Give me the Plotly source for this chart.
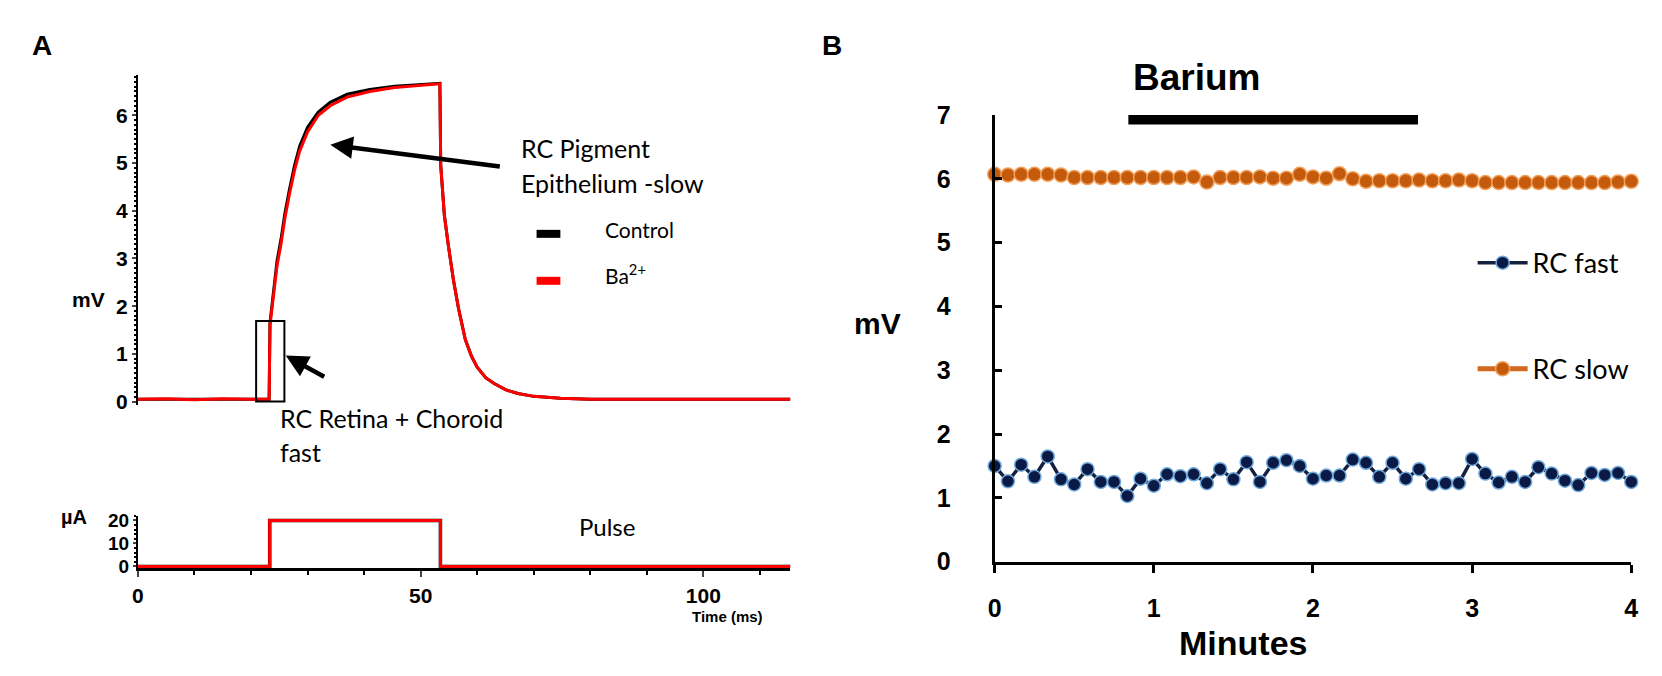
import plotly.graph_objects as go

W, H = 1662, 676


def fx(px):
    return px / W


def fy(py):
    return 1 - py / H


# ---- Panel A: transepithelial potential trace ----
time_ms = [0, 5, 10, 15, 20, 23.2, 23.35, 24.0, 24.6, 25.3, 26.0, 26.8, 27.7, 28.6,
           30.0, 31.9, 34.0, 37.0, 41.0, 45.4, 50.0, 53.4, 53.55, 54.2, 54.9, 55.8,
           56.7, 57.9, 59.0, 60.0, 61.5, 63.0, 65.0, 67.2, 70.0, 74.7, 80, 90, 100, 115.4]
ba_mv = [0.05, 0.06, 0.04, 0.06, 0.05, 0.05, 1.6, 2.3, 2.85, 3.3, 3.85, 4.35, 4.85, 5.25,
         5.65, 6.0, 6.2, 6.38, 6.5, 6.58, 6.63, 6.66, 4.95, 3.9, 3.27, 2.55,
         1.95, 1.3, 0.95, 0.72, 0.5, 0.38, 0.25, 0.17, 0.11, 0.07, 0.05, 0.05, 0.04, 0.05]
control_mv = [0.05, 0.05, 0.05, 0.05, 0.05, 0.05, 1.65, 2.4, 2.95, 3.4, 3.95, 4.45, 4.95, 5.35,
              5.75, 6.07, 6.27, 6.44, 6.54, 6.61, 6.65, 6.67, 4.95, 3.9, 3.27, 2.55,
              1.95, 1.3, 0.95, 0.72, 0.5, 0.38, 0.25, 0.17, 0.11, 0.07, 0.05, 0.05, 0.04, 0.05]

pulse_t = [0, 23.3, 23.3, 53.5, 53.5, 115.4]
pulse_ua = [0, 0, 20, 20, 0, 0]

box_t0, box_t1, box_top = 20.9, 25.9, 1.69

# ---- Panel B: amplitudes every 5 s ----
sample_sec = [0, 5, 10, 15, 20, 25, 30, 35, 40, 45, 50, 55, 60,
              65, 70, 75, 80, 85, 90, 95, 100, 105, 110, 115, 120,
              125, 130, 135, 140, 145, 150, 155, 160, 165, 170, 175, 180,
              185, 190, 195, 200, 205, 210, 215, 220, 225, 230, 235, 240]
rc_fast = [1.50, 1.26, 1.52, 1.33, 1.65, 1.29, 1.21, 1.45, 1.25, 1.25, 1.03, 1.30, 1.19,
           1.37, 1.34, 1.37, 1.23, 1.45, 1.29, 1.56, 1.25, 1.55, 1.59, 1.50, 1.30,
           1.35, 1.35, 1.60, 1.55, 1.33, 1.55, 1.30, 1.45, 1.21, 1.23, 1.23, 1.61,
           1.38, 1.24, 1.33, 1.25, 1.48, 1.38, 1.27, 1.20, 1.39, 1.36, 1.39, 1.25]
rc_slow = [6.07, 6.06, 6.07, 6.07, 6.07, 6.06, 6.02, 6.02, 6.02, 6.02, 6.02, 6.02, 6.02,
           6.02, 6.02, 6.03, 5.95, 6.02, 6.02, 6.02, 6.03, 6.01, 6.01, 6.07, 6.03,
           6.01, 6.08, 6.00, 5.96, 5.97, 5.97, 5.97, 5.98, 5.97, 5.97, 5.98, 5.97,
           5.94, 5.94, 5.94, 5.94, 5.94, 5.94, 5.94, 5.94, 5.94, 5.94, 5.95, 5.96]
minutes = [s / 60 for s in sample_sec]

barium_start, barium_end, barium_level = 0.84, 2.66, 6.93

ARIAL = "Liberation Sans, Arial"
CALIBRI = "Lato, Open Sans, sans-serif"

fig = go.Figure()

# A: traces (control under Ba2+)
fig.add_trace(go.Scatter(x=time_ms, y=control_mv, mode="lines", line=dict(color="black", width=3),
                         showlegend=False, xaxis="x", yaxis="y", hoverinfo="skip"))
fig.add_trace(go.Scatter(x=time_ms, y=ba_mv, mode="lines", line=dict(color="#FF0000", width=3),
                         showlegend=False, xaxis="x", yaxis="y", hoverinfo="skip"))
fig.add_trace(go.Scatter(x=pulse_t, y=pulse_ua, mode="lines", line=dict(color="black", width=3.5),
                         showlegend=False, xaxis="x2", yaxis="y2", hoverinfo="skip"))
fig.add_trace(go.Scatter(x=pulse_t, y=pulse_ua, mode="lines", line=dict(color="#FF0000", width=3),
                         showlegend=False, xaxis="x2", yaxis="y2", hoverinfo="skip"))

# B: series
fig.add_trace(go.Scatter(x=minutes, y=rc_fast, mode="lines+markers", name="RC fast",
                         line=dict(color="#14213F", width=3.5),
                         marker=dict(size=13, color="#0B1A45", line=dict(color="#6FA8DC", width=1.5)),
                         cliponaxis=False, xaxis="x3", yaxis="y3", legendgroup="fast"))
fig.add_trace(go.Scatter(x=minutes, y=rc_slow, mode="lines+markers", name="RC slow",
                         line=dict(color="#D2691E", width=5),
                         marker=dict(size=14, color="#C45A0C", line=dict(color="#F2A05A", width=1.5)),
                         cliponaxis=False, xaxis="x3", yaxis="y3", legendgroup="slow"))

axis_a_font = dict(family=ARIAL, size=21, color="black", weight="bold")
axis_b_font = dict(family=ARIAL, size=25, color="black", weight="bold")

fig.update_layout(
    width=W, height=H,
    margin=dict(l=0, r=0, t=0, b=0),
    paper_bgcolor="white", plot_bgcolor="white",
    xaxis=dict(domain=[fx(124), fx(782)], range=[0, 115.4], visible=False, anchor="y"),
    yaxis=dict(domain=[fy(400), fy(55)], range=[-0.08, 6.85], anchor="x",
               showline=True, linecolor="black", linewidth=2, showgrid=False, zeroline=False,
               ticks="outside", ticklen=4, tickwidth=1.5, tickvals=[0, 1, 2, 3, 4, 5, 6],
               tickfont=axis_a_font, ticklabelstandoff=0,
               minor=dict(ticks="outside", ticklen=2, dtick=0.1, tickcolor="black")),
    xaxis2=dict(domain=[fx(124), fx(782)], range=[0, 115.4], anchor="y2",
                showline=True, linecolor="black", linewidth=3, showgrid=False, zeroline=False,
                ticks="outside", ticklen=6, tickwidth=1.5, tickvals=[0, 50, 100],
                tickfont=axis_a_font, ticklabelstandoff=0,
                minor=dict(ticks="outside", ticklen=4, dtick=10, tickcolor="black")),
    yaxis2=dict(domain=[fy(570), fy(515)], range=[-0.83, 22.1], anchor="x2",
                showline=True, linecolor="black", linewidth=2, showgrid=False, zeroline=False,
                ticks="outside", ticklen=3, tickwidth=1.5, tickvals=[0, 10, 20],
                tickfont=dict(family=ARIAL, size=19, color="black", weight="bold"),
                ticklabelstandoff=0,
                minor=dict(ticks="outside", ticklen=2, dtick=2, tickcolor="black")),
    xaxis3=dict(domain=[fx(988), fx(1630)], range=[0, 4], anchor="y3",
                showline=True, linecolor="black", linewidth=3, showgrid=False, zeroline=False,
                ticks="outside", ticklen=8, tickwidth=2.5, tickcolor="black", dtick=1,
                tickfont=axis_b_font, ticklabelstandoff=14),
    yaxis3=dict(domain=[fy(563), fy(97)], range=[0, 7], anchor="x3",
                showline=True, linecolor="black", linewidth=3, showgrid=False, zeroline=False,
                ticks="inside", ticklen=7, tickwidth=2.5, tickcolor="black", dtick=1,
                tickfont=axis_b_font, ticklabelstandoff=36),
    legend=dict(x=fx(1470), y=fy(226), xanchor="left", yanchor="top",
                font=dict(family=CALIBRI, size=27, color="black"),
                bgcolor="rgba(0,0,0,0)", tracegroupgap=68, traceorder="grouped",
                itemwidth=50),
)

ann = []


def text(x, y, s, size, family=CALIBRI, bold=False, xanchor="left"):
    ann.append(dict(x=fx(x), y=fy(y), xref="paper", yref="paper", text=s, showarrow=False,
                    xanchor=xanchor, yanchor="middle",
                    font=dict(family=family, size=size, color="black",
                              weight="bold" if bold else "normal")))


text(27, 25, "A", 28, ARIAL, True, "center")
text(824, 25, "B", 28, ARIAL, True, "center")
text(74, 290, "mV", 21, ARIAL, True, "center")
text(59, 516, "µA", 20, ARIAL, True, "center")
text(508, 131, "RC Pigment", 25)
text(508, 168, "Epithelium -slow", 25)
text(593, 216, "Control", 21)
text(593, 263, "Ba<sup>2+</sup>", 21)
text(265, 413, "RC Retina + Choroid", 25)
text(265, 449, "fast", 25)
text(597, 526, "Pulse", 24, CALIBRI, False, "center")
text(681, 620, "Time (ms)", 15, ARIAL, True)
text(1125, 58, "Barium", 37, ARIAL, True)
text(870, 315, "mV", 30, ARIAL, True, "center")
text(1238, 648, "Minutes", 34, ARIAL, True, "center")

# arrows
for tip, tail in [((318, 128), (489, 150)), ((273, 348), (313, 370))]:
    ann.append(dict(x=fx(tip[0]), y=fy(tip[1]), xref="paper", yref="paper", text="",
                    showarrow=True, ax=tail[0] - tip[0], ay=tail[1] - tip[1],
                    arrowhead=2, arrowsize=1.0, arrowwidth=4.5, arrowcolor="black"))

fig.update_layout(annotations=ann)

shapes = [
    dict(type="rect", xref="x", yref="y", x0=box_t0, x1=box_t1, y0=0, y1=box_top,
         line=dict(color="black", width=2)),
    dict(type="line", xref="x3", yref="y3", x0=barium_start, x1=barium_end,
         y0=barium_level, y1=barium_level, line=dict(color="black", width=10)),
    dict(type="line", xref="paper", yref="paper", x0=fx(526), x1=fx(550), y0=fy(221), y1=fy(221),
         line=dict(color="black", width=8)),
    dict(type="line", xref="paper", yref="paper", x0=fx(526), x1=fx(550), y0=fy(270), y1=fy(270),
         line=dict(color="#FF0000", width=8)),
]
fig.update_layout(shapes=shapes)

fig.write_html("out.html")
